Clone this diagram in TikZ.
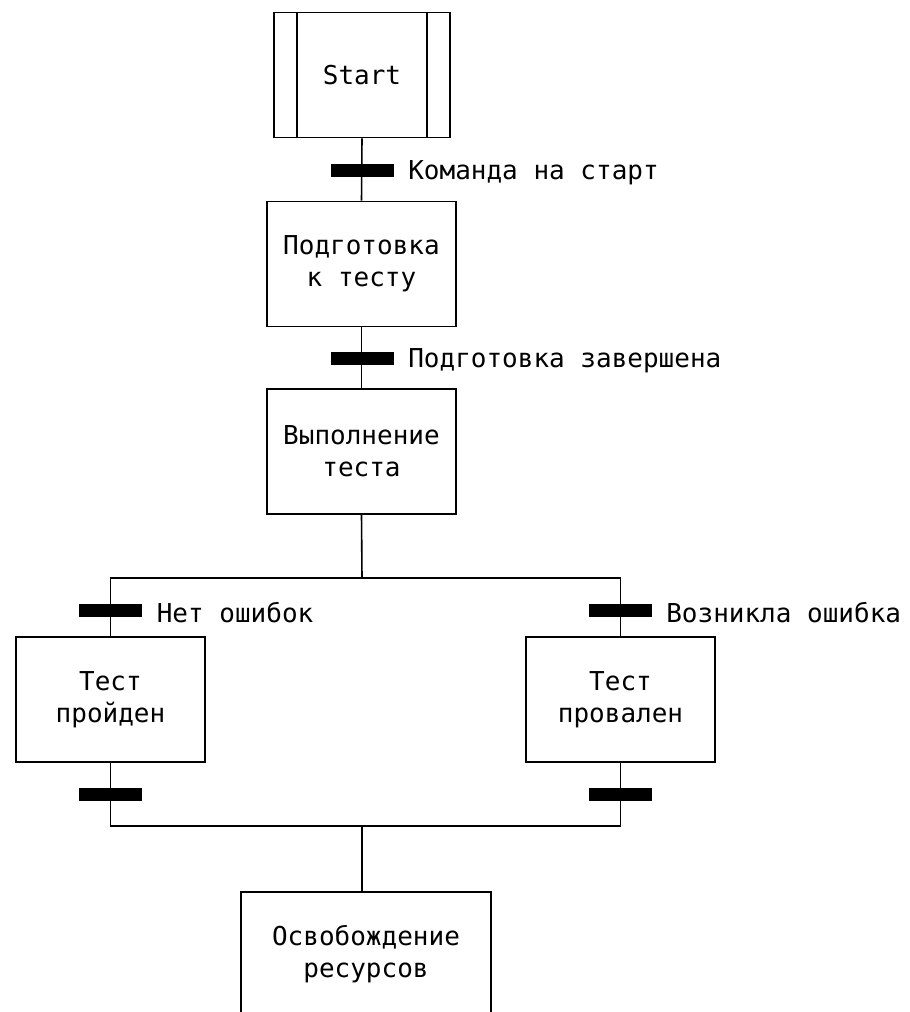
\documentclass[tikz,border=0pt]{standalone}
\usepackage{fontspec}
\setmainfont{DejaVu Sans Mono}
\usetikzlibrary{positioning}
\tikzset{
  stepbox/.style={draw, line width=0.8pt, minimum width=94.5pt, minimum height=62.5pt, align=center, inner sep=2pt},
  startbox/.style={stepbox, minimum width=88pt},
  trans/.style={fill=black, inner sep=0pt, minimum width=31.5pt, minimum height=6.5pt},
  cond/.style={inner sep=0pt, label distance=7pt, yshift=-1.5pt},
  link/.style={line width=0.8pt}
}

\begin{document}
\begin{tikzpicture}[x=0.5pt, y=-0.5pt, font=\fontsize{13}{16}\selectfont]
  \useasboundingbox (0,0) rectangle (910,1012);
  \clip (0,0) rectangle (910,1012);
  % steps
  \node[startbox] (start) at (362,75) {Start};
  \draw[link] ([xshift=12pt]start.north west) -- ([xshift=12pt]start.south west);
  \draw[link] ([xshift=-12pt]start.north east) -- ([xshift=-12pt]start.south east);
  \node[stepbox] (prep) at (361.5,264) {Подготовка\\к тесту};
  \node[stepbox] (exec) at (361.5,451.5) {Выполнение\\теста};
  \node[stepbox] (pass) at (110.5,699.5) {Тест\\пройден};
  \node[stepbox] (fail) at (620.5,699.5) {Тест\\провален};
  \node[stepbox, minimum width=125pt] (free) at (366,954.5) {Освобождение\\ресурсов};
  \coordinate (fork) at (362,578);
  \coordinate (join) at (362,826);
  % links
  \draw[link] (start.south) -- (prep.north);
  \draw[link] (prep.south) -- (exec.north);
  \draw[link] (exec.south) -- (fork);
  \draw[link] (pass.north) |- (fork) -| (fail.north);
  \draw[link] (pass.south) |- (join) -| (fail.south);
  \draw[link] (join) -- (join |- free.north);
  % transitions
  \node[trans, label={[cond]right:Команда на старт}] (t1) at (362,170) {};
  \node[trans, label={[cond]right:Подготовка завершена}] (t2) at (362,358) {};
  \node[trans, label={[cond]right:Нет ошибок}] (t3) at (110.5,610) {};
  \node[trans, label={[cond]right:Возникла ошибка}] (t4) at (620,610) {};
  \node[trans] (t5) at (110.5,794) {};
  \node[trans] (t6) at (620,794) {};
\end{tikzpicture}
\end{document}
